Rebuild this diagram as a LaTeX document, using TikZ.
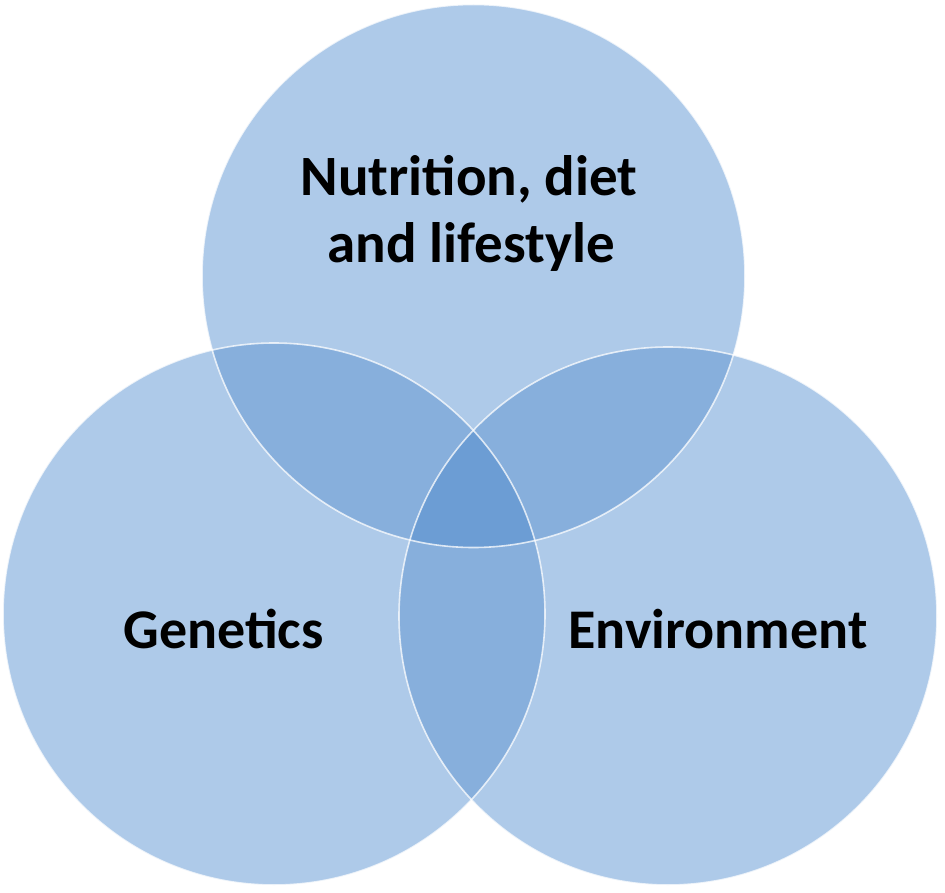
\documentclass[tikz,border=0pt]{standalone}
\usepackage{fontspec}
\setmainfont{Carlito}
\definecolor{single}{HTML}{AECAE9}
\definecolor{pair}{HTML}{87AFDC}
\definecolor{triple}{HTML}{6C9DD4}
\tikzset{
  lbl/.style={font=\fontsize{56}{67}\selectfont\bfseries, text=black, align=center, inner sep=0pt},
  rim/.style={draw=white, draw opacity=0.75, line width=1.6pt}
}
\begin{document}
\begin{tikzpicture}[x=1pt,y=-1pt]
\useasboundingbox (0,0) rectangle (945,893);
\fill[white] (0,0) rectangle (945,893);
\def\rT{(473.5,276) circle[radius=271.5]}
\def\rL{(274,614) circle[radius=271]}
\def\rR{(668,616) circle[radius=269]}
% single fills
\fill[single] \rT;
\fill[single] \rL;
\fill[single] \rR;
% pair overlaps
\begin{scope}\clip \rT; \fill[pair] \rL; \fill[pair] \rR; \end{scope}
\begin{scope}\clip \rL; \fill[pair] \rR; \end{scope}
% triple
\begin{scope}\clip \rT; \clip \rL; \fill[triple] \rR; \end{scope}
% rims
\draw[rim] \rT;
\draw[rim] \rL;
\draw[rim] \rR;
% labels
\node[lbl, anchor=base, font=\fontsize{57}{67}\selectfont\bfseries] (nut1) at (469,196) {Nutrition, diet};
\node[lbl, anchor=base, font=\fontsize{57}{67}\selectfont\bfseries] (nut2) at (471,263) {and lifestyle};
\node[lbl, anchor=base] (gen) at (223.5,648) {Genetics};
\node[lbl, anchor=base] (env) at (718,648) {Environment};
\end{tikzpicture}
\end{document}
